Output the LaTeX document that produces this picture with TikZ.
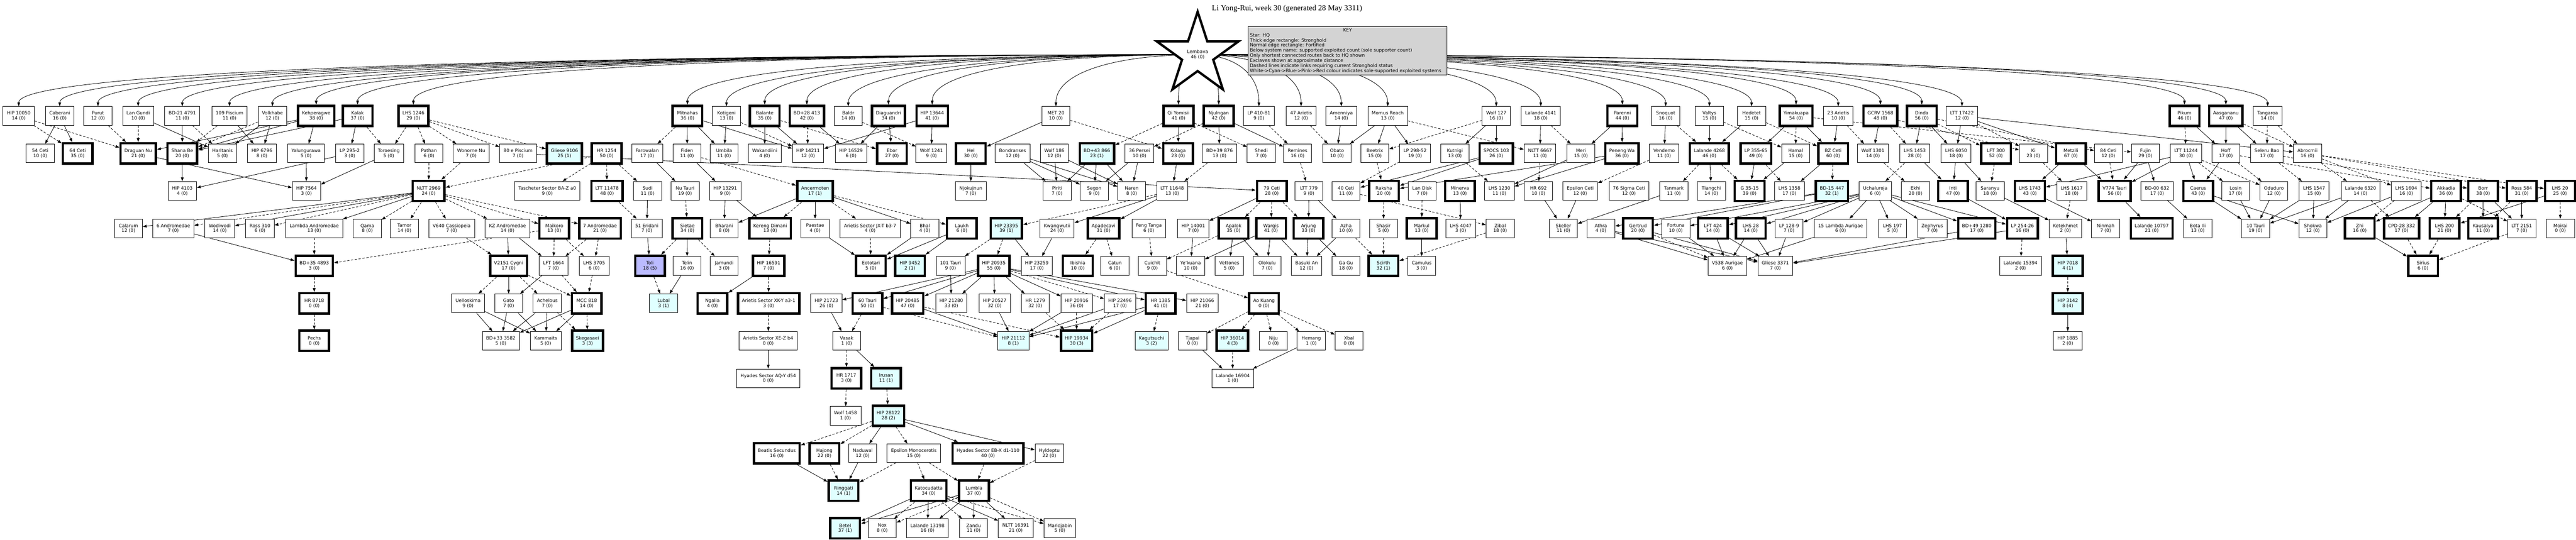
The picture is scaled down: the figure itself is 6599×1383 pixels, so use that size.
\documentclass[tikz,border=0pt]{standalone}
\usepackage{fontspec}
\setmainfont{DejaVu Sans}
\newfontfamily\titlefont{Liberation Serif}
\usepackage{tikz}
\usetikzlibrary{arrows.meta,positioning,calc,backgrounds,shapes.geometric}
\definecolor{solecyan}{RGB}{224,255,255}
\definecolor{soleblue}{RGB}{187,187,255}
\definecolor{keygray}{RGB}{211,211,211}

\begin{document}
\begin{tikzpicture}[
  x=1pt, y=1pt,
  sys/.style={draw, line width=1.3pt, fill=white, align=center, minimum width=72pt, minimum height=48pt,
    inner xsep=10pt, font=\fontsize{11.7}{13}\selectfont},
  hold/.style={sys, line width=6pt, minimum width=76pt, minimum height=52pt},
  sole/.style={fill=solecyan},
  soleb/.style={fill=soleblue},
  link/.style={-{Triangle[length=10pt,width=7pt]}, line width=1.1pt},
  dlink/.style={link, dash pattern=on 6pt off 4pt},
  keybox/.style={draw, line width=1.3pt, fill=keygray, align=left, inner sep=5pt, font=\fontsize{11.7}{13}\selectfont}
]
\useasboundingbox (0,0) rectangle (6599,-1383);

% TITLE, HQ, KEY
\node[font=\titlefont\fontsize{20}{22}\selectfont] (title) at (3297,-22) {Li Yong-Rui, week 30 (generated 28 May 3311)};
\node[star, star points=5, star point ratio=2.618, minimum size=220pt, inner sep=0pt, draw, line width=6pt, fill=white,
  align=center, font=\fontsize{11.7}{13}\selectfont] (hq) at (3068,-140) {Lembava\\46 (0)};
\node[keybox] (key) at (3452,-130) {\makebox[500pt]{KEY}\\Star: HQ\\Thick edge rectangle: Stronghold\\Normal edge rectangle: Fortified\\Below system name: supported exploited count (sole supporter count)\\Only shortest connected routes back to HQ shown\\Exclaves shown at approximate distance\\Dashed lines indicate links requiring current Stronghold status\\White->Cyan->Blue->Pink->Red colour indicates sole-supported exploited systems};

% ROW 1
\node[sys]  (hip10050)   at (48,-297)   {HIP 10050\\14 (0)};
\node[sys]  (caberani)   at (153,-297)  {Caberani\\16 (0)};
\node[sys]  (purut)      at (251,-297)  {Purut\\12 (0)};
\node[sys]  (langundi)   at (354,-297)  {Lan Gundi\\10 (0)};
\node[sys]  (bdm21)      at (467,-297)  {BD-21 4791\\11 (0)};
\node[sys]  (p109)       at (588,-297)  {109 Piscium\\11 (0)};
\node[sys]  (volkhabe)   at (698,-297)  {Volkhabe\\12 (0)};
\node[hold] (kehperagwe) at (810,-297)  {Kehperagwe\\38 (0)};
\node[hold] (kalak)      at (916,-297)  {Kalak\\37 (0)};
\node[hold] (lhs1246)    at (1059,-297) {LHS 1246\\29 (0)};
\node[hold] (mitnahas)   at (1761,-297) {Mitnahas\\36 (0)};
\node[sys]  (kotigeni)   at (1861,-297) {Kotigeni\\13 (0)};
\node[hold] (balante)    at (1959,-297) {Balante\\35 (0)};
\node[hold] (bd28)       at (2067,-297) {BD+28 413\\42 (0)};
\node[sys]  (baldr)      at (2173,-297) {Baldr\\14 (0)};
\node[hold] (diaguandri) at (2276,-297) {Diaguandri\\34 (0)};
\node[hold] (hip13644)   at (2388,-297) {HIP 13644\\41 (0)};
\node[sys]  (met20)      at (2705,-297) {MET 20\\10 (0)};
\node[hold] (qiyomisii)  at (3019,-297) {Qi Yomisii\\41 (0)};
\node[hold] (njulngan)   at (3122,-297) {Njulngan\\42 (0)};
\node[sys]  (lp410)      at (3225,-297) {LP 410-81\\9 (0)};
\node[sys]  (ari47)      at (3333,-297) {47 Arietis\\12 (0)};
\node[sys]  (amenniya)   at (3436,-297) {Amenniya\\14 (0)};
\node[sys]  (momus)      at (3555,-297) {Momus Reach\\13 (0)};
\node[sys]  (wolf127)    at (3833,-297) {Wolf 127\\16 (0)};
\node[sys]  (lal4141)    at (3947,-297) {Lalande 4141\\18 (0)};
\node[hold] (parenni)    at (4156,-297) {Parenni\\44 (0)};
\node[sys]  (snoquot)    at (4267,-297) {Snoquot\\16 (0)};
\node[sys]  (valtys)     at (4379,-297) {Valtys\\15 (0)};
\node[sys]  (hedetet)    at (4487,-297) {Hedetet\\15 (0)};
\node[hold] (yimakuapa)  at (4601,-297) {Yimakuapa\\54 (0)};
\node[sys]  (ari23)      at (4709,-297) {23 Arietis\\10 (0)};
\node[hold] (gcrv)       at (4817,-297) {GCRV 1568\\48 (0)};
\node[hold] (dinda)      at (4923,-297) {Dinda\\56 (0)};
\node[sys]  (ltt17422)   at (5026,-297) {LTT 17422\\12 (0)};
\node[hold] (pikum)      at (5596,-297) {Pikum\\46 (0)};
\node[hold] (aasgananu)  at (5702,-297) {Aasgananu\\47 (0)};
\node[sys]  (tangaroa)   at (5809,-297) {Tangaroa\\14 (0)};

% ROW 2
\node[sys]  (ceti54)     at (103,-393)  {54 Ceti\\10 (0)};
\node[hold] (ceti64)     at (199,-393)  {64 Ceti\\35 (0)};
\node[hold] (draguan)    at (354,-393)  {Draguan Nu\\21 (0)};
\node[hold] (shana)      at (467,-393)  {Shana Be\\20 (0)};
\node[sys]  (haritanis)  at (570,-393)  {Haritanis\\5 (0)};
\node[sys]  (hip6796)    at (671,-393)  {HIP 6796\\8 (0)};
\node[sys]  (yalung)     at (784,-393)  {Yalungurawa\\5 (0)};
\node[sys]  (lp2952)     at (896,-393)  {LP 295-2\\3 (0)};
\node[sys]  (toroesing)  at (996,-393)  {Toroesing\\5 (0)};
\node[sys]  (pathan)     at (1099,-393) {Pathan\\6 (0)};
\node[sys]  (wonorne)    at (1207,-393) {Wonorne Nu\\7 (0)};
\node[sys]  (pisc80)     at (1327,-393) {80 e Piscium\\7 (0)};
\node[hold, sole] (gl9106) at (1446,-393) {Gliese 9106\\25 (1)};
\node[hold] (hr1254)     at (1554,-393) {HR 1254\\50 (0)};
\node[sys]  (farowalan)  at (1658,-393) {Farowalan\\17 (0)};
\node[sys]  (fiden)      at (1760,-393) {Fiden\\11 (0)};
\node[sys]  (umbila)     at (1855,-393) {Umbila\\11 (0)};
\node[sys]  (wakandiini) at (1959,-393) {Wakandiini\\4 (0)};
\node[sys]  (hip14211)   at (2070,-393) {HIP 14211\\12 (0)};
\node[sys]  (hip16529)   at (2180,-393) {HIP 16529\\6 (0)};
\node[hold] (ebor)       at (2285,-393) {Ebor\\27 (0)};
\node[sys]  (wolf1241)   at (2386,-393) {Wolf 1241\\9 (0)};
\node[hold] (hel)        at (2487,-393) {Hel\\30 (0)};
\node[sys]  (bondranses) at (2594,-393) {Bondranses\\12 (0)};
\node[sys]  (wolf186)    at (2701,-393) {Wolf 186\\12 (0)};
\node[hold, sole] (bd43) at (2810,-393) {BD+43 866\\23 (1)};
\node[sys]  (persei36)   at (2919,-393) {36 Persei\\10 (0)};
\node[hold] (kolaga)     at (3018,-393) {Kolaga\\23 (0)};
\node[sys]  (bd39)       at (3124,-393) {BD+39 876\\13 (0)};
\node[sys]  (shedi)      at (3231,-393) {Shedi\\7 (0)};
\node[sys]  (remines)    at (3324,-393) {Remines\\16 (0)};
\node[sys]  (obato)      at (3425,-393) {Obato\\10 (0)};
\node[sys]  (beetrix)    at (3522,-393) {Beetrix\\15 (0)};
\node[sys]  (lp29852)    at (3625,-393) {LP 298-52\\19 (0)};
\node[sys]  (kutnigi)    at (3727,-393) {Kutnigi\\13 (0)};
\node[hold] (spocs)      at (3833,-393) {SPOCS 103\\26 (0)};
\node[sys]  (nltt6667)   at (3945,-393) {NLTT 6667\\11 (0)};
\node[sys]  (meri)       at (4050,-393) {Meri\\15 (0)};
\node[hold] (peneng)     at (4155,-393) {Peneng Wa\\36 (0)};
\node[sys]  (vendemo)    at (4263,-393) {Vendemo\\11 (0)};
\node[hold] (lal4268)    at (4379,-393) {Lalande 4268\\46 (0)};
\node[hold] (lp35565)    at (4498,-393) {LP 355-65\\49 (0)};
\node[sys]  (hamal)      at (4600,-393) {Hamal\\15 (0)};
\node[hold] (bzceti)     at (4696,-393) {BZ Ceti\\60 (0)};
\node[sys]  (wolf1301)   at (4798,-393) {Wolf 1301\\14 (0)};
\node[sys]  (lhs1453)    at (4905,-393) {LHS 1453\\28 (0)};
\node[sys]  (lhs6050)    at (5011,-393) {LHS 6050\\18 (0)};
\node[hold] (lft300)     at (5113,-393) {LFT 300\\52 (0)};
\node[sys]  (ki)         at (5209,-393) {Ki\\23 (0)};
\node[hold] (metzili)    at (5305,-393) {Metzili\\67 (0)};
\node[sys]  (ceti84)     at (5401,-393) {84 Ceti\\12 (0)};
\node[sys]  (fujin)      at (5496,-393) {Fujin\\29 (0)};
\node[sys]  (ltt11244)   at (5600,-393) {LTT 11244\\30 (0)};
\node[sys]  (hoff)       at (5702,-393) {Hoff\\17 (0)};
\node[sys]  (seleru)     at (5807,-393) {Seleru Bao\\17 (0)};
\node[sys]  (abrocmii)   at (5911,-393) {Abrocmii\\16 (0)};

% ROW 3
\node[sys]  (hip4103)    at (467,-489)  {HIP 4103\\4 (0)};
\node[sys]  (hip7564)    at (785,-489)  {HIP 7564\\3 (0)};
\node[hold] (nltt2969)   at (1098,-489) {NLTT 2969\\24 (0)};
\node[sys]  (tascheter)  at (1402,-489) {Tascheter Sector BA-Z a0\\9 (0)};
\node[hold] (ltt11478)   at (1555,-489) {LTT 11478\\48 (0)};
\node[sys]  (sudi)       at (1659,-489) {Sudi\\11 (0)};
\node[sys]  (nutauri)    at (1755,-489) {Nu Tauri\\19 (0)};
\node[sys]  (hip13291)   at (1858,-489) {HIP 13291\\9 (0)};
\node[hold, sole] (ancermoten) at (2088,-489) {Ancermoten\\17 (1)};
\node[sys]  (njokujnun)  at (2487,-489) {Njokujnun\\7 (0)};
\node[sys]  (piriti)     at (2708,-489) {Piriti\\7 (0)};
\node[sys]  (segon)      at (2803,-489) {Segon\\9 (0)};
\node[sys]  (naren)      at (2899,-489) {Naren\\8 (0)};
\node[sys]  (ltt11648)   at (3003,-489) {LTT 11648\\13 (0)};
\node[hold] (ceti79)     at (3258,-489) {79 Ceti\\28 (0)};
\node[sys]  (ltt779)     at (3353,-489) {LTT 779\\9 (0)};
\node[sys]  (ceti40)     at (3448,-489) {40 Ceti\\11 (0)};
\node[hold] (raksha)     at (3545,-489) {Raksha\\20 (0)};
\node[sys]  (landisk)    at (3643,-489) {Lan Disk\\7 (0)};
\node[hold] (minerva)    at (3740,-489) {Minerva\\13 (0)};
\node[sys]  (lhs1230)    at (3841,-489) {LHS 1230\\11 (0)};
\node[sys]  (hr692)      at (3941,-489) {HR 692\\10 (0)};
\node[sys]  (epsceti)    at (4048,-489) {Epsilon Ceti\\12 (0)};
\node[sys]  (sigceti76)  at (4173,-489) {76 Sigma Ceti\\12 (0)};
\node[sys]  (tanmark)    at (4288,-489) {Tanmark\\11 (0)};
\node[sys]  (tiangchi)   at (4384,-489) {Tiangchi\\14 (0)};
\node[hold] (g3515)      at (4482,-489) {G 35-15\\39 (0)};
\node[sys]  (lhs1358)    at (4584,-489) {LHS 1358\\17 (0)};
\node[hold, sole] (bdm15) at (4693,-489) {BD-15 447\\32 (1)};
\node[sys]  (uchaluroja) at (4804,-489) {Uchaluroja\\6 (0)};
\node[sys]  (ekhi)       at (4907,-489) {Ekhi\\20 (0)};
\node[hold] (inti)       at (5003,-489) {Inti\\47 (0)};
\node[sys]  (saranyu)    at (5098,-489) {Saranyu\\18 (0)};
\node[hold] (lhs1743)    at (5200,-489) {LHS 1743\\43 (0)};
\node[sys]  (lhs1617)    at (5307,-489) {LHS 1617\\18 (0)};
\node[hold] (v774)       at (5417,-489) {V774 Tauri\\56 (0)};
\node[sys]  (bdm00)      at (5526,-489) {BD-00 632\\17 (0)};
\node[hold] (caerus)     at (5631,-489) {Caerus\\43 (0)};
\node[sys]  (losin)      at (5727,-489) {Losin\\17 (0)};
\node[sys]  (oduduro)    at (5825,-489) {Oduduro\\12 (0)};
\node[sys]  (lhs1547)    at (5928,-489) {LHS 1547\\15 (0)};
\node[sys]  (lal6320)    at (6047,-489) {Lalande 6320\\14 (0)};
\node[sys]  (lhs1604)    at (6164,-489) {LHS 1604\\16 (0)};
\node[hold] (akkadia)    at (6266,-489) {Akkadia\\36 (0)};
\node[hold] (borr)       at (6361,-489) {Borr\\38 (0)};
\node[hold] (ross584)    at (6460,-489) {Ross 584\\31 (0)};
\node[hold] (lhs20)      at (6558,-489) {LHS 20\\25 (0)};

% ROW 4
\node[sys]  (calarum)    at (329,-585)  {Calarum\\12 (0)};
\node[sys]  (and6)       at (444,-585)  {6 Andromedae\\7 (0)};
\node[sys]  (wodiwodi)   at (563,-585)  {Wodiwodi\\14 (0)};
\node[sys]  (ross310)    at (666,-585)  {Ross 310\\6 (0)};
\node[sys]  (lamand)     at (805,-585)  {Lambda Andromedae\\13 (0)};
\node[sys]  (qama)       at (941,-585)  {Qama\\8 (0)};
\node[sys]  (tamor)      at (1036,-585) {Tamor\\14 (0)};
\node[sys]  (v640)       at (1157,-585) {V640 Cassiopeia\\7 (0)};
\node[sys]  (kzand)      at (1300,-585) {KZ Andromedae\\14 (0)};
\node[hold] (maikoro)    at (1420,-585) {Maikoro\\13 (0)};
\node[hold] (and7)       at (1537,-585) {7 Andromedae\\21 (0)};
\node[sys]  (eri51)      at (1657,-585) {51 Eridani\\7 (0)};
\node[hold] (sietae)     at (1761,-585) {Sietae\\34 (0)};
\node[sys]  (bharani)    at (1855,-585) {Bharani\\8 (0)};
\node[hold] (kereng)     at (1973,-585) {Kereng Dimani\\13 (0)};
\node[sys]  (paestae)    at (2088,-585) {Paestae\\4 (0)};
\node[sys]  (arijxt)     at (2229,-585) {Arietis Sector JX-T b3-7\\4 (0)};
\node[sys]  (bhal)       at (2369,-585) {Bhal\\4 (0)};
\node[hold] (laukh)      at (2464,-585) {Laukh\\6 (0)};
\node[hold, sole] (hip23395) at (2578,-585) {HIP 23395\\39 (1)};
\node[sys]  (kwangwutii) at (2708,-585) {Kwangwutii\\24 (0)};
\node[hold] (apadecavi)  at (2827,-585) {Apadecavi\\31 (0)};
\node[sys]  (fengtanga)  at (2943,-585) {Feng Tanga\\6 (0)};
\node[sys]  (hip14001)   at (3057,-585) {HIP 14001\\7 (0)};
\node[hold] (apalok)     at (3160,-585) {Apalok\\35 (0)};
\node[hold] (wargis)     at (3256,-585) {Wargis\\41 (0)};
\node[hold] (arjung)     at (3352,-585) {Arjung\\33 (0)};
\node[sys]  (azha)       at (3448,-585) {Azha\\10 (0)};
\node[sys]  (shasir)     at (3544,-585) {Shasir\\5 (0)};
\node[hold] (markul)     at (3642,-585) {Markul\\13 (0)};
\node[sys]  (lhs4047)    at (3742,-585) {LHS 4047\\3 (0)};
\node[sys]  (zibal)      at (3843,-585) {Zibal\\18 (0)};
\node[sys]  (skeller)    at (4005,-585) {Skeller\\11 (0)};
\node[sys]  (athra)      at (4101,-585) {Athra\\4 (0)};
\node[hold] (gertrud)    at (4196,-585) {Gertrud\\20 (0)};
\node[sys]  (fortuna)    at (4293,-585) {Fortuna\\10 (0)};
\node[hold] (lft424)     at (4388,-585) {LFT 424\\14 (0)};
\node[hold] (lhs28)      at (4485,-585) {LHS 28\\14 (0)};
\node[sys]  (lp1289)     at (4583,-585) {LP 128-9\\7 (0)};
\node[sys]  (lamaur15)   at (4715,-585) {15 Lambda Aurigae\\6 (0)};
\node[sys]  (lhs197)     at (4848,-585) {LHS 197\\5 (0)};
\node[sys]  (zephyrus)   at (4950,-585) {Zephyrus\\7 (0)};
\node[hold] (bd49)       at (5064,-585) {BD+49 1280\\17 (0)};
\node[hold] (lp25426)    at (5181,-585) {LP 254-26\\16 (0)};
\node[sys]  (ketekhmet)  at (5291,-585) {Ketekhmet\\2 (0)};
\node[sys]  (ninmah)     at (5394,-585) {Ninmah\\7 (0)};
\node[hold] (lal10797)   at (5512,-585) {Lalande 10797\\21 (0)};
\node[sys]  (botaili)    at (5630,-585) {Bota Ili\\13 (0)};
\node[sys]  (tauri10)    at (5778,-585) {10 Tauri\\19 (0)};
\node[sys]  (shokwa)     at (5925,-585) {Shokwa\\12 (0)};
\node[hold] (zhi)        at (6045,-585) {Zhi\\16 (0)};
\node[hold] (cpd28)      at (6152,-585) {CPD-28 332\\17 (0)};
\node[hold] (lhs200)     at (6262,-585) {LHS 200\\21 (0)};
\node[hold] (kausalya)   at (6361,-585) {Kausalya\\11 (0)};
\node[sys]  (ltt2151)    at (6460,-585) {LTT 2151\\7 (0)};
\node[sys]  (moirai)     at (6559,-585) {Moirai\\0 (0)};

% ROW 5
\node[hold] (bd35)       at (805,-681)  {BD+35 4893\\3 (0)};
\node[hold] (v2151)      at (1303,-681) {V2151 Cygni\\17 (0)};
\node[sys]  (lft1664)    at (1418,-681) {LFT 1664\\7 (0)};
\node[sys]  (lhs3705)    at (1522,-681) {LHS 3705\\6 (0)};
\node[hold, soleb] (toli) at (1665,-681) {Toli\\18 (5)};
\node[sys]  (telin)      at (1760,-681) {Telin\\16 (0)};
\node[sys]  (jamundi)    at (1855,-681) {Jamundi\\3 (0)};
\node[hold] (hip16591)   at (1969,-681) {HIP 16591\\7 (0)};
\node[hold] (eototari)   at (2231,-681) {Eototari\\5 (0)};
\node[hold, sole] (hip9452) at (2331,-681) {HIP 9452\\2 (1)};
\node[sys]  (tauri101)   at (2435,-681) {101 Tauri\\9 (0)};
\node[hold] (hip20935)   at (2546,-681) {HIP 20935\\55 (0)};
\node[sys]  (hip23259)   at (2656,-681) {HIP 23259\\17 (0)};
\node[hold] (ibishia)    at (2761,-681) {Ibishia\\10 (0)};
\node[sys]  (catun)      at (2856,-681) {Catun\\6 (0)};
\node[sys]  (cuichit)    at (2952,-681) {Cuichit\\9 (0)};
\node[sys]  (yekuana)    at (3050,-681) {Ye'kuana\\10 (0)};
\node[sys]  (vettones)   at (3149,-681) {Vettones\\5 (0)};
\node[sys]  (olokulu)    at (3246,-681) {Olokulu\\7 (0)};
\node[sys]  (basuki)     at (3347,-681) {Basuki An\\12 (0)};
\node[sys]  (gagu)       at (3448,-681) {Ga Gu\\18 (0)};
\node[hold, sole] (scirth) at (3544,-681) {Scirth\\32 (1)};
\node[sys]  (camulus)    at (3642,-681) {Camulus\\3 (0)};
\node[sys]  (v538)       at (4425,-681) {V538 Aurigae\\6 (0)};
\node[sys]  (gl3371)     at (4548,-681) {Gliese 3371\\7 (0)};
\node[sys]  (lal15394)   at (5176,-681) {Lalande 15394\\2 (0)};
\node[hold, sole] (hip7018) at (5297,-681) {HIP 7018\\4 (1)};
\node[hold] (sirius)     at (6207,-681) {Sirius\\6 (0)};

% ROW 6
\node[hold] (hr8718)     at (805,-777)  {HR 8718\\0 (0)};
\node[sys]  (uelloskima) at (1199,-777) {Uelloskima\\9 (0)};
\node[sys]  (gato)       at (1303,-777) {Gato\\7 (0)};
\node[sys]  (achelous)   at (1402,-777) {Achelous\\7 (0)};
\node[hold] (mcc818)     at (1503,-777) {MCC 818\\14 (0)};
\node[sys, sole] (lubal) at (1700,-777) {Lubal\\3 (1)};
\node[hold] (ngalia)     at (1825,-777) {Ngalia\\4 (0)};
\node[hold] (arixky)     at (1969,-777) {Arietis Sector XK-Y a3-1\\3 (0)};
\node[sys]  (hip21723)   at (2117,-777) {HIP 21723\\26 (0)};
\node[hold] (tauri60)    at (2222,-777) {60 Tauri\\50 (0)};
\node[hold] (hip20485)   at (2325,-777) {HIP 20485\\47 (0)};
\node[sys]  (hip21280)   at (2437,-777) {HIP 21280\\33 (0)};
\node[sys]  (hip20527)   at (2548,-777) {HIP 20527\\32 (0)};
\node[sys]  (hr1279)     at (2652,-777) {HR 1279\\32 (0)};
\node[sys]  (hip20916)   at (2758,-777) {HIP 20916\\36 (0)};
\node[sys]  (hip22496)   at (2869,-777) {HIP 22496\\17 (0)};
\node[hold] (hr1385)     at (2973,-777) {HR 1385\\41 (0)};
\node[sys]  (hip21066)   at (3080,-777) {HIP 21066\\21 (0)};
\node[hold] (aokuang)    at (3238,-777) {Ao Kuang\\0 (0)};
\node[hold, sole] (hip3142) at (5297,-777) {HIP 3142\\8 (4)};

% ROW 7
\node[hold] (pechs)      at (805,-873)  {Pechs\\0 (0)};
\node[sys]  (bd33)       at (1283,-873) {BD+33 3582\\5 (0)};
\node[sys]  (kammaits)   at (1398,-873) {Kammaits\\5 (0)};
\node[hold, sole] (skegasaei) at (1505,-873) {Skegasaei\\3 (3)};
\node[sys]  (arixez)     at (1968,-873) {Arietis Sector XE-Z b4\\0 (0)};
\node[sys]  (vasak)      at (2169,-873) {Vasak\\1 (0)};
\node[sys, sole] (hip21112) at (2596,-873) {HIP 21112\\8 (1)};
\node[hold, sole] (hip19934) at (2758,-873) {HIP 19934\\30 (3)};
\node[sys, sole] (kagutsuchi) at (2950,-873) {Kagutsuchi\\3 (2)};
\node[sys]  (tjapai)     at (3055,-873) {Tjapai\\0 (0)};
\node[hold, sole] (hip36014) at (3157,-873) {HIP 36014\\4 (3)};
\node[sys]  (niju)       at (3262,-873) {Niju\\0 (0)};
\node[sys]  (hemang)     at (3359,-873) {Hemang\\1 (0)};
\node[sys]  (xbal)       at (3456,-873) {Xbal\\0 (0)};
\node[sys]  (hip1885)    at (5297,-873) {HIP 1885\\2 (0)};

% ROWS 8-12
\node[sys]  (hyaq)       at (1968,-969) {Hyades Sector AQ-Y d54\\0 (0)};
\node[hold] (hr1717)     at (2168,-969) {HR 1717\\3 (0)};
\node[hold, sole] (irusan) at (2270,-969) {Irusan\\11 (1)};
\node[sys]  (lal16904)   at (3158,-969) {Lalande 16904\\1 (0)};
\node[sys]  (wolf1458)   at (2166,-1065) {Wolf 1458\\1 (0)};
\node[hold, sole] (hip28122) at (2276,-1065) {HIP 28122\\28 (2)};
\node[hold] (beatis)     at (1990,-1161) {Beatis Secundus\\16 (0)};
\node[hold] (hajong)     at (2112,-1161) {Hajong\\22 (0)};
\node[sys]  (naduwal)    at (2210,-1161) {Naduwal\\12 (0)};
\node[sys]  (epsmon)     at (2341,-1161) {Epsilon Monocerotis\\15 (0)};
\node[hold] (hyebx)      at (2531,-1161) {Hyades Sector EB-X d1-110\\40 (0)};
\node[sys]  (hyldeptu)   at (2688,-1161) {Hyldeptu\\22 (0)};
\node[hold, sole] (ringgati) at (2161,-1257) {Ringgati\\14 (1)};
\node[hold] (katocudatta) at (2379,-1257) {Katocudatta\\34 (0)};
\node[hold] (lumbla)     at (2495,-1257) {Lumbla\\37 (0)};
\node[hold, sole] (betel) at (2165,-1353) {Betel\\37 (1)};
\node[sys]  (nox)        at (2260,-1353) {Nox\\8 (0)};
\node[sys]  (lal13198)   at (2376,-1353) {Lalande 13198\\16 (0)};
\node[sys]  (zandu)      at (2494,-1353) {Zandu\\11 (0)};
\node[sys]  (nltt16391)  at (2602,-1353) {NLTT 16391\\21 (0)};
\node[sys]  (maridjabin) at (2715,-1353) {Maridjabin\\5 (0)};

\begin{scope}[on background layer]
% routes from HQ
\foreach \n in {hip10050,caberani,purut,langundi,bdm21,p109,volkhabe,kehperagwe,kalak,lhs1246,
  mitnahas,kotigeni,balante,bd28,baldr,diaguandri,hip13644,met20,qiyomisii,njulngan,lp410,ari47,
  amenniya,momus,wolf127,lal4141,parenni,snoquot,valtys,hedetet,yimakuapa,ari23,gcrv,dinda,ltt17422,
  pikum,aasgananu,tangaroa}
  \draw[link] (hq.center) .. controls ($(hq.center)!0.55!(\n.north |- hq.center)$) and ($(\n.north)+(0,90)$) .. (\n.north);

% solid links
\foreach \a/\b in {caberani/ceti54,caberani/ceti64,langundi/haritanis,bdm21/shana,p109/hip6796,volkhabe/haritanis,
  volkhabe/hip6796,kehperagwe/shana,kehperagwe/yalung,kehperagwe/draguan,kalak/lp2952,kalak/shana,
  mitnahas/fiden,mitnahas/umbila,mitnahas/hip14211,kotigeni/umbila,balante/wakandiini,balante/hip14211,
  bd28/hip16529,diaguandri/ebor,diaguandri/hip16529,hip13644/wolf1241,hip13644/hip14211,met20/hel,
  qiyomisii/kolaga,njulngan/bd39,njulngan/remines,amenniya/obato,momus/beetrix,momus/lp29852,momus/obato,
  wolf127/spocs,wolf127/kutnigi,lal4141/nltt6667,parenni/peneng,parenni/meri,snoquot/vendemo,valtys/lal4268,
  hedetet/lal4268,yimakuapa/lp35565,yimakuapa/bzceti,ari23/bzceti,gcrv/wolf1301,dinda/lhs1453,
  ltt17422/lhs6050,ltt17422/metzili,dinda/lhs6050,pikum/hoff,aasgananu/hoff,aasgananu/seleru,ltt17422/abrocmii,
  shana/hip4103,lp2952/hip4103,draguan/hip7564,yalung/hip7564,toroesing/hip7564,farowalan/nutauri,
  fiden/hip13291,hel/njokujnun,bondranses/piriti,bondranses/segon,bondranses/naren,wolf186/piriti,
  wolf186/naren,bd43/segon,bd43/piriti,bd43/naren,persei36/naren,persei36/segon,kolaga/ltt11648,
  pisc80/ceti79,spocs/raksha,spocs/ceti40,peneng/raksha,peneng/lhs1230,meri/lhs1230,lp35565/g3515,
  hamal/g3515,bzceti/lhs1358,lhs6050/inti,lhs6050/saranyu,lhs1453/inti,metzili/v774,metzili/lhs1743,
  fujin/v774,fujin/bdm00,ltt11244/lhs1743,ltt11244/caerus,ltt11244/v774,hoff/caerus,lal4268/tiangchi,
  nltt2969/calarum,nltt2969/wodiwodi,nltt2969/lamand,sudi/eri51,hip13291/bharani,hip13291/kereng,
  ancermoten/bharani,ancermoten/paestae,ancermoten/bhal,ltt11648/apadecavi,ltt11648/kwangwutii,
  ceti79/hip14001,ltt779/arjung,ltt779/azha,minerva/lhs4047,hr692/skeller,epsceti/skeller,tanmark/skeller,
  bdm15/athra,bdm15/gertrud,uchaluroja/fortuna,uchaluroja/lft424,uchaluroja/lhs28,uchaluroja/lp1289,
  uchaluroja/lamaur15,uchaluroja/lhs197,uchaluroja/zephyrus,uchaluroja/bd49,uchaluroja/lp25426,
  inti/lp25426,saranyu/ketekhmet,lhs1743/ninmah,v774/lal10797,bdm00/botaili,caerus/tauri10,caerus/shokwa,
  losin/tauri10,oduduro/tauri10,lhs1547/tauri10,lhs1547/shokwa,lal6320/tauri10,lal6320/shokwa,
  lhs1604/shokwa,akkadia/zhi,akkadia/cpd28,akkadia/lhs200,borr/kausalya,borr/ltt2151,ross584/ltt2151,
  lhs20/lhs200,and6/bd35,kzand/v2151,kzand/lft1664,eri51/toli,sietae/telin,paestae/eototari,bhal/eototari,
  laukh/eototari,laukh/hip9452,hip23395/hip23259,kwangwutii/hip23259,hip14001/yekuana,apalok/vettones,
  apalok/olokulu,wargis/yekuana,wargis/olokulu,wargis/basuki,arjung/basuki,arjung/gagu,azha/basuki,
  markul/camulus,athra/v538,athra/gl3371,gertrud/gl3371,fortuna/v538,lft424/v538,lft424/gl3371,
  lhs28/v538,lhs28/gl3371,lp1289/gl3371,lamaur15/v538,bd49/gl3371,lp25426/gl3371,ketekhmet/hip7018,
  zhi/sirius,telin/lubal,hip16591/ngalia,hip20935/hip21723,hip20935/tauri60,hip20935/hip20485,
  hip20935/hip21280,hip20935/hip20527,hip20935/hr1279,hip20935/hip20916,hip20935/hr1385,hip20935/hip21066,
  tauri101/hip21280,v2151/gato,lft1664/gato,uelloskima/bd33,uelloskima/kammaits,gato/bd33,gato/kammaits,
  achelous/bd33,achelous/kammaits,mcc818/bd33,mcc818/kammaits,hip21723/vasak,hip20485/hip21112,
  hip20527/hip21112,hip20916/hip21112,hip22496/hip21112,hr1385/hip19934,hr1385/hip21112,hip3142/hip1885,
  arixez/hyaq,vasak/irusan,tjapai/lal16904,hemang/lal16904,hip28122/naduwal,hip28122/hyebx,
  hip28122/hyldeptu,beatis/ringgati,naduwal/ringgati,katocudatta/betel,katocudatta/lal13198,
  katocudatta/nltt16391,lumbla/betel,lumbla/lal13198,lumbla/zandu,lumbla/nltt16391}
  \draw[link] (\a) -- (\b);

% links requiring Stronghold status
\foreach \a/\b in {hip10050/ceti64,hip10050/draguan,purut/draguan,langundi/draguan,bdm21/haritanis,
  p109/shana,volkhabe/shana,kalak/toroesing,lhs1246/pathan,lhs1246/wonorne,lhs1246/pisc80,
  lhs1246/toroesing,lhs1246/gl9106,mitnahas/farowalan,kotigeni/hip14211,balante/ebor,bd28/hip14211,
  baldr/wolf1241,met20/kolaga,qiyomisii/shedi,qiyomisii/bd43,njulngan/persei36,lp410/remines,ari47/obato,
  momus/nltt6667,wolf127/beetrix,lal4141/meri,snoquot/lal4268,valtys/hamal,hedetet/bzceti,yimakuapa/hamal,
  ari23/wolf1301,gcrv/lhs1453,dinda/lft300,ltt17422/ki,pikum/ltt11244,aasgananu/abrocmii,tangaroa/abrocmii,
  tangaroa/seleru,gcrv/ki,dinda/ceti84,yimakuapa/fujin,
  pathan/nltt2969,wonorne/nltt2969,hr1254/nltt2969,hr1254/tascheter,hr1254/ltt11478,hr1254/sudi,
  fiden/ancermoten,bd39/ltt11648,remines/ltt779,beetrix/raksha,lp29852/ceti40,kutnigi/lhs1230,
  nltt6667/hr692,vendemo/epsceti,lal4268/tanmark,lal4268/g3515,lp35565/lhs1358,bzceti/bdm15,
  wolf1301/ekhi,lhs1453/uchaluroja,ki/lhs1617,ceti84/v774,ltt11244/losin,hoff/oduduro,seleru/lhs1547,
  abrocmii/lal6320,abrocmii/lhs1604,hoff/akkadia,seleru/borr,abrocmii/ross584,abrocmii/lhs20,
  lft300/saranyu,ltt11244/oduduro,
  nltt2969/and6,nltt2969/ross310,nltt2969/qama,nltt2969/tamor,nltt2969/v640,nltt2969/kzand,
  nltt2969/maikoro,nltt2969/and7,ltt11478/eri51,nutauri/sietae,ancermoten/kereng,ancermoten/arijxt,
  ancermoten/laukh,ltt11648/hip23395,ceti79/apalok,ceti79/wargis,ceti79/arjung,raksha/shasir,
  ceti40/zibal,landisk/markul,lhs1617/ketekhmet,lhs20/moirai,ross584/kausalya,borr/lhs200,
  akkadia/ltt2151,lhs1604/zhi,lal6320/cpd28,
  lamand/bd35,maikoro/bd35,v640/v2151,maikoro/lft1664,and7/lft1664,maikoro/lhs3705,and7/lhs3705,
  sietae/toli,sietae/jamundi,kereng/hip16591,arijxt/eototari,hip23395/tauri101,hip23395/hip20935,
  apadecavi/ibishia,apadecavi/catun,fengtanga/cuichit,apalok/cuichit,azha/scirth,shasir/scirth,
  zibal/scirth,gertrud/v538,lp25426/lal15394,cpd28/sirius,lhs200/sirius,ltt2151/sirius,
  toli/lubal,hip16591/arixky,hip20935/hip22496,cuichit/aokuang,hip7018/hip3142,bd35/hr8718,
  v2151/uelloskima,v2151/achelous,v2151/mcc818,lft1664/mcc818,lhs3705/mcc818,
  hr8718/pechs,achelous/skegasaei,mcc818/skegasaei,arixky/arixez,tauri60/vasak,tauri60/hip21112,
  hip20485/hip19934,hr1279/hip19934,hip20916/hip19934,hip22496/hip19934,hr1385/kagutsuchi,
  aokuang/tjapai,aokuang/hip36014,aokuang/niju,aokuang/hemang,aokuang/xbal,hip36014/lal16904,
  vasak/hr1717,hr1717/wolf1458,irusan/hip28122,hip28122/beatis,hip28122/hajong,hip28122/epsmon,
  hajong/ringgati,epsmon/ringgati,epsmon/katocudatta,epsmon/lumbla,hyebx/lumbla,hyldeptu/lumbla,
  katocudatta/nox,katocudatta/zandu,katocudatta/maridjabin,lumbla/nox,lumbla/maridjabin}
  \draw[dlink] (\a) -- (\b);
\end{scope}
\end{tikzpicture}
\end{document}
